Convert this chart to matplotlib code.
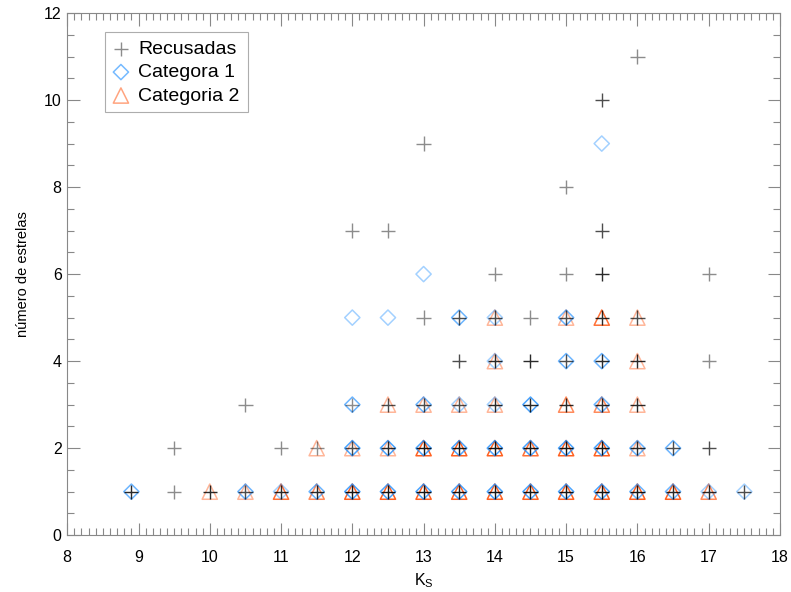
import numpy as np
import matplotlib
matplotlib.use("Agg")
import matplotlib.pyplot as plt
from matplotlib.ticker import MultipleLocator
from matplotlib.colors import to_rgba

plt.rcParams['font.family'] = ['Liberation Sans', 'DejaVu Sans']

# (Ks, numero de estrelas, sobreposicoes) for each group
rec_x = [8.9, 9.5, 10, 10.5, 11, 11.5, 12, 12.5, 13, 13.5, 14, 14.5, 15, 15.5, 16, 16.5, 17, 17.5,
         9.5, 11, 11.5, 12, 12.5, 13, 13.5, 14, 14.5, 15, 15.5, 16, 16.5, 17,
         10.5, 12, 12.5, 13, 13.5, 14, 14.5, 15, 15.5, 16,
         13.5, 14, 14.5, 15, 15.5, 16, 17,
         13, 13.5, 14, 14.5, 15, 15.5, 16,
         14, 15, 15.5, 17,
         12, 12.5, 15.5,
         15,
         13,
         15.5,
         16]
rec_y = [1] * 18 + [2] * 14 + [3] * 10 + [4] * 7 + [5] * 7 + [6] * 4 + [7] * 3 + [8] + [9] + [10] + [11]
rec_n = [3, 1, 3, 2, 3, 3, 4, 4, 4, 4, 4, 4, 4, 4, 4, 3, 3, 2,
         1, 1, 1, 2, 3, 4, 4, 4, 4, 4, 4, 3, 2, 2,
         1, 1, 2, 2, 2, 3, 3, 3, 3, 3,
         2, 3, 3, 2, 3, 3, 1,
         1, 2, 2, 1, 2, 3, 2,
         1, 1, 3, 1,
         1, 1, 2,
         1,
         1,
         2,
         1]

cat1_x = [8.9, 10.5, 11, 11.5, 12, 12.5, 13, 13.5, 14, 14.5, 15, 15.5, 16, 16.5, 17, 17.5,
          12, 12.5, 13, 13.5, 14, 14.5, 15, 15.5, 16, 16.5,
          12, 13, 13.5, 14, 14.5, 15.5,
          14, 15, 15.5,
          12, 12.5, 13.5, 14, 15,
          13,
          15.5]
cat1_y = [1] * 16 + [2] * 10 + [3] * 6 + [4] * 3 + [5] * 5 + [6] + [9]
cat1_n = [2, 2, 1, 2, 3, 3, 3, 3, 3, 3, 3, 3, 2, 2, 1, 1,
          3, 3, 3, 3, 3, 3, 3, 3, 2, 2,
          2, 2, 1, 1, 3, 2,
          1, 2, 2,
          1, 1, 2, 1, 2,
          1,
          1]

cat2_x = [10, 10.5, 11, 11.5, 12, 12.5, 13, 13.5, 14, 14.5, 15, 15.5, 16, 16.5, 17,
          11.5, 12, 12.5, 13, 13.5, 14, 14.5, 15, 15.5, 16,
          12.5, 13, 13.5, 14, 15, 15.5, 16,
          14, 16,
          14, 15, 15.5, 16]
cat2_y = [1] * 15 + [2] * 10 + [3] * 7 + [4] * 2 + [5] * 4
cat2_n = [1, 1, 3, 2, 4, 4, 4, 4, 4, 4, 4, 4, 4, 4, 2,
          1, 1, 1, 4, 4, 4, 3, 4, 4, 1,
          1, 1, 1, 1, 2, 2, 1,
          1, 1,
          1, 1, 3, 1]

labels = ['Recusadas', 'Categora 1', 'Categoria 2']


def layered(color, counts, a0=0.4):
    # stacked transparency: n overlapping marks of opacity a0
    counts = np.asarray(counts)
    rgba = np.tile(to_rgba(color), (len(counts), 1))
    rgba[:, 3] = 1 - (1 - a0) ** counts
    return rgba


S_TRI, S_DIA, S_PLUS = 120, 60, 105

fig = plt.figure(figsize=(7.91, 5.92), dpi=100)
ax = fig.add_axes([0.085, 0.096, 0.901, 0.882])

ax.scatter(cat2_x, cat2_y, marker='^', s=S_TRI, facecolors='none',
           edgecolors=layered('#ff4a00', cat2_n), linewidths=1.1)
ax.scatter(cat1_x, cat1_y, marker='D', s=S_DIA, facecolors='none',
           edgecolors=layered('#1a8cff', cat1_n), linewidths=1.1)
ax.scatter(rec_x, rec_y, marker='+', s=S_PLUS,
           c=layered('#000000', rec_n, 0.45), linewidths=1.0)

# legend handles drawn light, like a single mark
h1 = ax.scatter([], [], marker='+', s=S_PLUS, c=[to_rgba('k', 0.45)], linewidths=1.0)
h2 = ax.scatter([], [], marker='D', s=S_DIA, facecolors='none',
                edgecolors=[to_rgba('#1a8cff', 0.6)], linewidths=1.1)
h3 = ax.scatter([], [], marker='^', s=S_TRI, facecolors='none',
                edgecolors=[to_rgba('#ff4a00', 0.5)], linewidths=1.1)
leg = ax.legend([h1, h2, h3], labels, loc='upper left', bbox_to_anchor=(0.0535, 0.963),
                fontsize=14, frameon=True, fancybox=False, handlelength=0.8,
                handletextpad=0.5, labelspacing=0.3, borderpad=0.4,
                edgecolor='#999999', borderaxespad=0)
leg.get_frame().set_linewidth(0.8)

ax.set_xlim(8, 18)
ax.set_ylim(0, 12)
ax.xaxis.set_major_locator(MultipleLocator(1))
ax.xaxis.set_minor_locator(MultipleLocator(0.1))
ax.yaxis.set_major_locator(MultipleLocator(2))
ax.yaxis.set_minor_locator(MultipleLocator(0.5))
ax.tick_params(which='both', direction='in', top=True, right=True,
               color='#888888', width=0.8)
ax.tick_params(which='major', length=9, labelsize=11.5)
ax.tick_params(which='minor', length=5)
ax.tick_params(axis='x', which='major', pad=11)
ax.tick_params(axis='y', which='major', pad=4)
for sp in ax.spines.values():
    sp.set_color('#888888')
    sp.set_linewidth(0.8)

ax.set_xlabel('K$_\\mathregular{S}$', fontsize=11.5, labelpad=4)
ax.set_ylabel('número de estrelas', fontsize=10.5, labelpad=10)

fig.savefig('out.png', dpi=100)
